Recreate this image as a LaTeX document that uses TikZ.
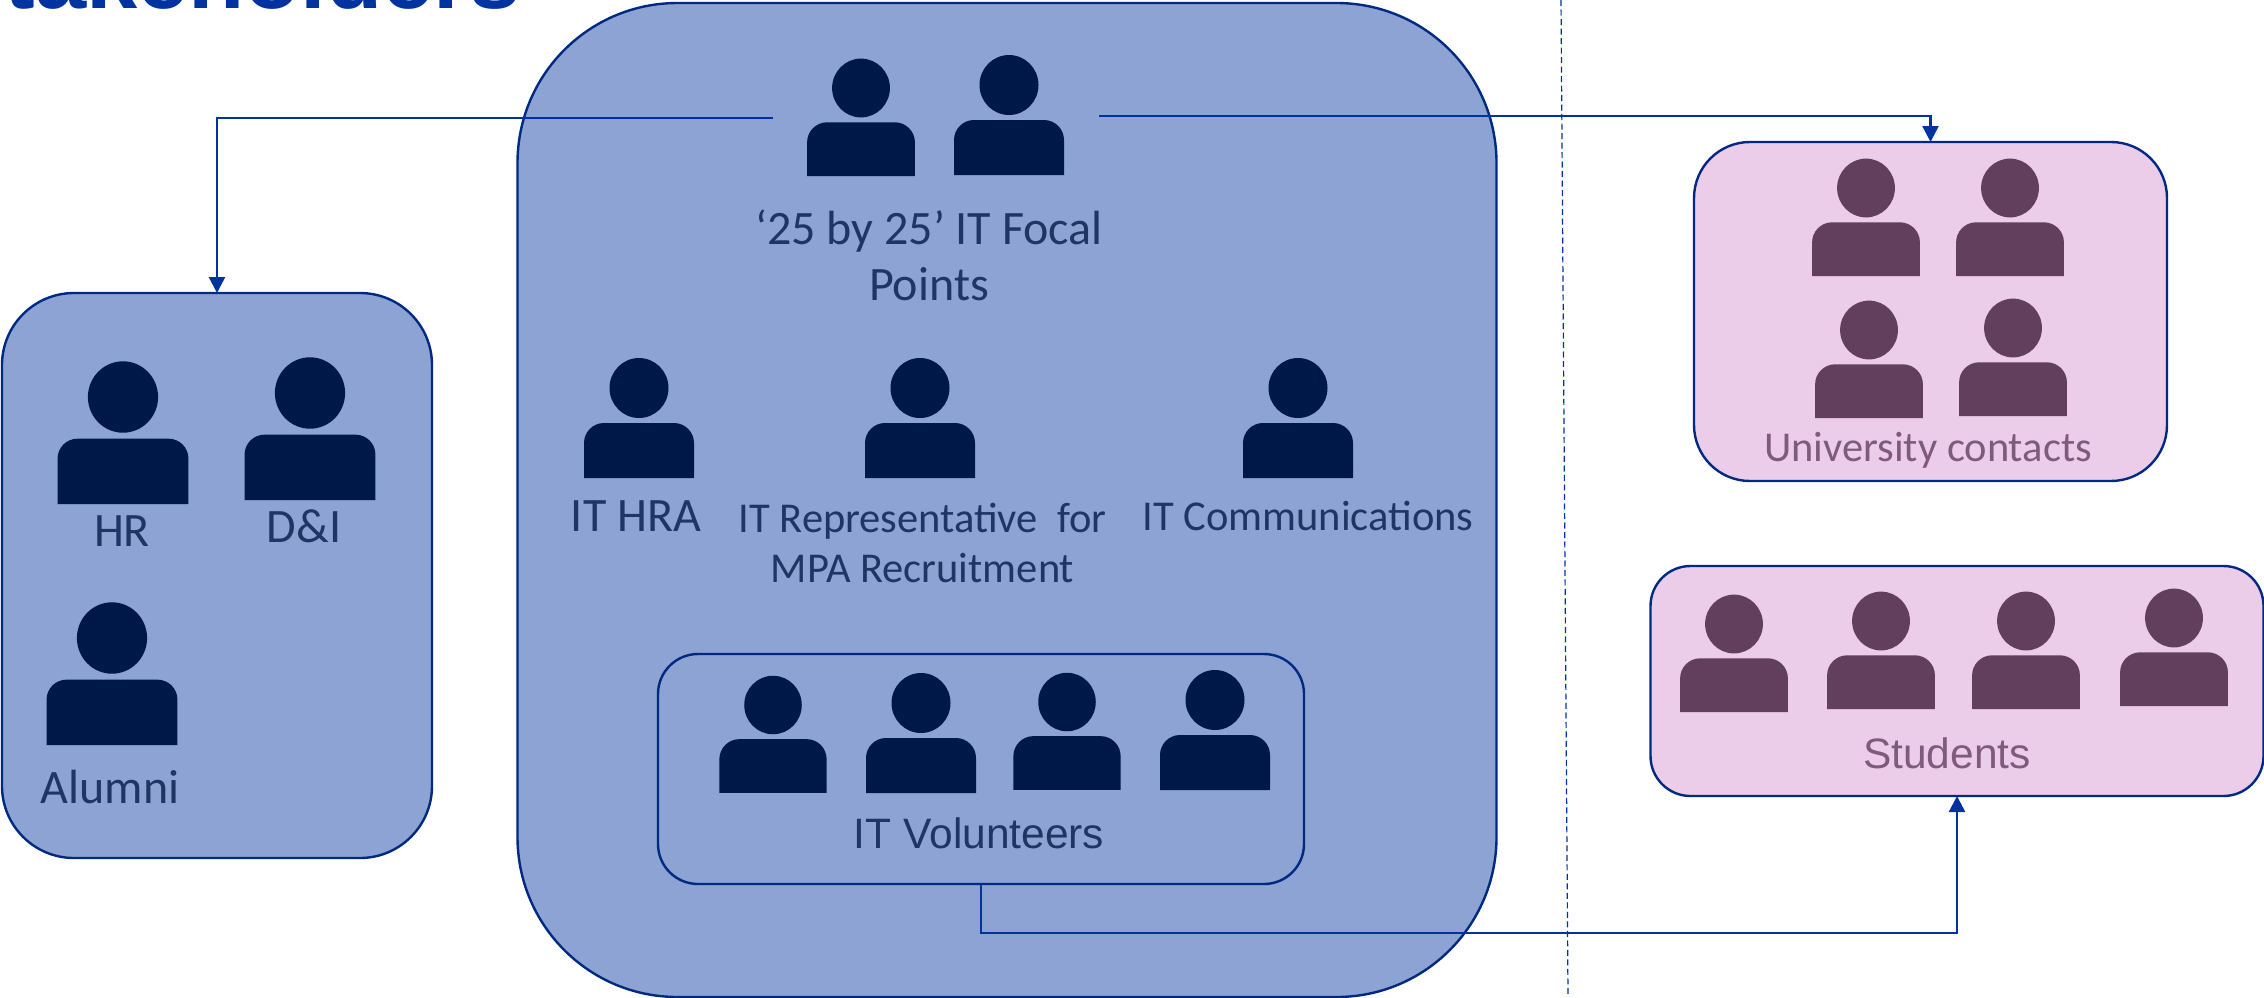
\documentclass[tikz,border=0pt]{standalone}
\usepackage{fontspec}
\usetikzlibrary{arrows.meta}
\setmainfont{Carlito}
\newfontfamily\arialf{Liberation Sans}
\definecolor{boxblue}{HTML}{8CA3D3}
\definecolor{boxpink}{HTML}{ECCDE9}
\definecolor{edgeblue}{HTML}{002A82}
\definecolor{linkblue}{HTML}{0033A0}
\definecolor{navy}{HTML}{001848}
\definecolor{plum}{HTML}{623F5D}
\definecolor{labblue}{HTML}{1F3564}
\definecolor{labplum}{HTML}{7F5A7D}
\tikzset{
  x=1pt,y=-1pt,
  stakebox/.style={draw=edgeblue,line width=2.4pt,rectangle,inner sep=0pt,outer sep=0pt},
  person/.pic={
    \fill (0,0) ellipse [x radius=29.5,y radius=30];
    \fill (-55,90) [rounded corners=20pt] -- (-55,35) -- (55,35) [sharp corners] -- (55,90) -- cycle;
  },
  bigperson/.style={scale=1.19},
  lab/.style={text=labblue,font=\fontsize{42.5}{42.5}\selectfont,inner sep=0pt,align=center},
  labbig/.style={lab,font=\fontsize{48}{48}\selectfont},
  labarial/.style={lab,font=\arialf\fontsize{42.5}{42.5}\selectfont},
  link/.style={draw=linkblue,line width=2.4pt,-{Triangle[length=16pt,width=16pt]}},
}
\begin{document}
\begin{tikzpicture}
\useasboundingbox (0,0) rectangle (2264,997);
\begin{scope}
  \clip (0,0) rectangle (2264,997);
  \node[anchor=base east,inner sep=0pt,text=linkblue] (title) at (521,8)
    {\arialf\bfseries\fontsize{92}{92}\selectfont Stakeholders};
\end{scope}
\coordinate (d1) at (1561,0);
\coordinate (d2) at (1568,997);
\draw[linkblue,line width=1.2pt,dash pattern=on 6pt off 3.5pt] (d1) -- (d2);

\node[stakebox,fill=boxblue,rounded corners=160pt,minimum width=979pt,minimum height=994pt] (main) at (1007,500) {};
\node[stakebox,fill=boxblue,rounded corners=72pt,minimum width=430pt,minimum height=565pt] (left) at (217,575.5) {};
\node[stakebox,fill=boxpink,rounded corners=56pt,minimum width=473pt,minimum height=339pt] (uni) at (1930.5,311.5) {};
\node[stakebox,fill=boxpink,rounded corners=40pt,minimum width=613pt,minimum height=230pt] (stud) at (1957,681) {};
\node[stakebox,fill=boxblue,rounded corners=40pt,minimum width=646pt,minimum height=230pt] (vol) at (981,769) {};

% people
\begin{scope}[navy]
  \pic[scale=.98] at (861,88) {person};
  \pic at (1009,85) {person};
  \pic at (639,388) {person};
  \pic at (920,388) {person};
  \pic at (1298,388) {person};
  \pic[scale=.975] at (773,705) {person};
  \pic at (921,703) {person};
  \pic[scale=.975] at (1067,702) {person};
  \pic at (1215,700) {person};
  \pic[bigperson] at (123,397) {person};
  \pic[bigperson] at (310,393) {person};
  \pic[bigperson] at (112,638) {person};
\end{scope}
\begin{scope}[plum]
  \pic[scale=.98] at (1866,188) {person};
  \pic[scale=.98] at (2010,188) {person};
  \pic[scale=.98] at (1869,330) {person};
  \pic[scale=.98] at (2013,328) {person};
  \pic[scale=.98] at (1734,624) {person};
  \pic[scale=.98] at (1881,621) {person};
  \pic[scale=.98] at (2026,621) {person};
  \pic[scale=.98] at (2174,618) {person};
\end{scope}

% labels
\node[labbig] (focal) at (929,255) {‘25 by 25’ IT Focal\\[8pt]Points};
\node[labbig] (hra) at (636,516) {IT HRA};
\node[lab] (rep) at (922.5,543) {IT Representative\ \ for\\[7pt]MPA Recruitment};
\node[lab] (comm) at (1308,516) {IT Communications};
\node[labbig] (hr) at (122,531) {HR};
\node[labbig] (di) at (304,526) {D\&I};
\node[labbig] (alum) at (110,787) {Alumni};
\node[labarial] (vollab) at (979,833) {IT Volunteers};
\node[lab,text=labplum] (unilab) at (1928,450) {University contacts};
\node[labarial,text=labplum] (studlab) at (1947,753) {Students};

% connectors
\coordinate (la) at (773,118);
\coordinate (ra) at (1099,116);
\coordinate (vt) at (1400,933);
\draw[link] (la) -| (left.north);
\draw[link] (ra) -| (uni.north);
\draw[link] (vol.south) |- (vt) -| (stud.south);
\end{tikzpicture}
\end{document}
